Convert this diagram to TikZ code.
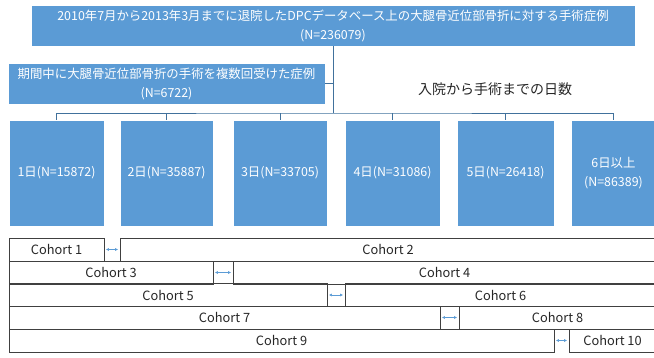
\documentclass[tikz,border=0pt]{standalone}
\usepackage{fontspec}
\setmainfont{Noto Sans CJK JP}
\usetikzlibrary{arrows.meta}
\definecolor{boxblue}{HTML}{5B9BD5}
\definecolor{linkblue}{HTML}{41719C}
\definecolor{cohortline}{HTML}{404040}
\begin{document}
\begin{tikzpicture}[x=1pt,y=-1pt,
  bluebox/.style={rectangle, fill=boxblue, draw=white, line width=0.6pt, text=white, font=\fontsize{12.4}{19}\selectfont, align=center, inner sep=0pt},
  link/.style={draw=linkblue, line width=0.8pt},
  cohort/.style={rectangle, draw=cohortline, line width=0.7pt, minimum height=23pt, inner sep=0pt, font=\fontsize{12.8}{14}\selectfont, text=black!85},
  gaparrow/.style={draw=boxblue, line width=0.8pt, {Latex[length=3pt,width=3pt]}-{Latex[length=3pt,width=3pt]}, shorten <=1.5pt, shorten >=1.5pt}
]
\useasboundingbox (0,0) rectangle (654,358);
% top and left boxes
\node[bluebox, minimum width=604pt, minimum height=41pt] (top) at (333,25.5)
  {2010年7月から2013年3月までに退院したDPCデータベース上の大腿骨近位部骨折に対する手術症例\\(N=236079)};
\node[bluebox, minimum width=317pt, minimum height=41pt] (left) at (166.5,83.5)
  {期間中に大腿骨近位部骨折の手術を複数回受けた症例\\(N=6722)};
\node[font=\fontsize{14}{16}\selectfont, text=black!85] (lbl) at (495,89) {入院から手術までの日数};
% day boxes
\node[bluebox, minimum width=95pt, minimum height=106pt] (d1) at (56.5,173) {1日(N=15872)};
\node[bluebox, minimum width=93pt, minimum height=106pt] (d2) at (166.5,173) {2日(N=35887)};
\node[bluebox, minimum width=94pt, minimum height=106pt] (d3) at (280,173) {3日(N=33705)};
\node[bluebox, minimum width=95pt, minimum height=106pt] (d4) at (392.5,173) {4日(N=31086)};
\node[bluebox, minimum width=97pt, minimum height=106pt] (d5) at (505.5,173) {5日(N=26418)};
\node[bluebox, minimum width=85pt, minimum height=106pt] (d6) at (613.5,173) {6日以上\\(N=86389)};
% connectors
\coordinate (bar) at (333,113);
\draw[link] (top.south) -- (bar);
\draw[link] (left.east) -- (left.east -| bar);
\draw[link] (d1.north) |- (bar) -| (d6.north);
\foreach \d in {d2,d3,d4,d5} \draw[link] (\d.north) -- (\d.north |- bar);
% cohorts
\node[cohort, minimum width=95pt]  (c1)  at (56.5,249.5) {Cohort 1};
\node[cohort, minimum width=536pt] (c2)  at (388,249.5) {Cohort 2};
\node[cohort, minimum width=204pt] (c3)  at (111,272.5) {Cohort 3};
\node[cohort, minimum width=423pt] (c4)  at (444.5,272.5) {Cohort 4};
\node[cohort, minimum width=318pt] (c5)  at (168,295) {Cohort 5};
\node[cohort, minimum width=311pt] (c6)  at (500.5,295) {Cohort 6};
\node[cohort, minimum width=431pt] (c7)  at (224.5,317.5) {Cohort 7};
\node[cohort, minimum width=197pt] (c8)  at (557.5,317.5) {Cohort 8};
\node[cohort, minimum width=545pt] (c9)  at (281.5,340.5) {Cohort 9};
\node[cohort, minimum width=87pt]  (c10) at (612.5,340.5) {Cohort 10};
\draw[gaparrow] (c1.east) -- (c2.west);
\draw[gaparrow] (c3.east) -- (c4.west);
\draw[gaparrow] (c5.east) -- (c6.west);
\draw[gaparrow] (c7.east) -- (c8.west);
\draw[gaparrow] (c9.east) -- (c10.west);
\end{tikzpicture}
\end{document}
